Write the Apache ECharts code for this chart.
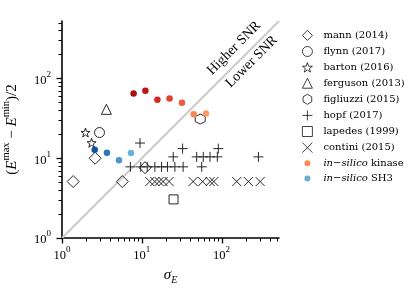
<!DOCTYPE html>
<html><head><meta charset="utf-8">
<script src="https://cdn.jsdelivr.net/npm/echarts@6/dist/echarts.min.js"></script>
<style>html,body{margin:0;padding:0;background:#fff}#c{width:415px;height:293px}</style>
</head><body><div id="c"></div>
<script>
// ---- data ----
const mann = [[1.38, 5.1], [2.6, 10], [5.7, 5.1], [11, 7.6]];
const flynn = [[2.95, 21]];
const barton = [[1.97, 21], [2.35, 15.6]];
const ferguson = [[3.6, 41]];
const figliuzzi = [[54, 31]];
const hopf = [[9.5, 15.5],
  [7.2, 7.8], [9.7, 7.8], [11.7, 7.8], [14.6, 7.8], [17.7, 7.8], [21, 7.8], [26, 7.8], [33, 7.8], [56.4, 7.8],
  [24.8, 10.4], [48.8, 10.4], [59, 10.4], [71.7, 10.4], [88.5, 10.4], [290, 10.4],
  [32.5, 13.2], [91, 13.2]];
const lapedes = [[25, 3.05]];
const contini = [[12.6, 5.1], [14.6, 5.1], [16.5, 5.1], [18.5, 5.1], [22, 5.1], [44, 5.1], [58, 5.1], [72, 5.1], [80, 5.1], [155, 5.1], [217, 5.1], [305, 5.1]];
const kinase = [[7.9, 65], [11.1, 70], [15.7, 54], [22.3, 56], [31.9, 49.5], [44.7, 35.6], [63.8, 36.3]];
const sh3 = [[2.57, 12.8], [3.66, 11.7], [5.18, 9.4], [7.32, 11.6]];
const diagonal = [1, 525];
const majorTicks = [1, 10, 100];
const minorTicks = [2, 3, 4, 5, 6, 7, 8, 9, 20, 30, 40, 50, 60, 70, 80, 90, 200, 300, 400, 500];
const axisRange = [1, 525];
const higherAnchor = [143, 240];
const lowerAnchor = [238, 162];
const names = ['mann (2014)', 'flynn (2017)', 'barton (2016)', 'ferguson (2013)', 'figliuzzi (2015)',
  'hopf (2017)', 'lapedes (1999)', 'contini (2015)', 'in-silico kinase', 'in-silico SH3'];

// ---- styles ----
const kinaseColors = ['#a50f15', '#c0141c', '#d42b22', '#e2432f', '#f05b3d', '#fc8656', '#fd9a64'];
const sh3Colors = ['#0c56a0', '#2a78ba', '#4a97cb', '#6bb0dc'];
const FF = '"Liberation Serif", "DejaVu Serif", serif';
const LF = '"DejaVu Serif", serif';

function polyPath(n, rIn, start) {
  const pts = [];
  for (let k = 0; k < n; k++) {
    const a = (start + k * 360 / n) * Math.PI / 180;
    const r = (rIn && k % 2 === 1) ? rIn : 1;
    pts.push([(r * Math.cos(a)).toFixed(3), (-r * Math.sin(a)).toFixed(3)]);
  }
  return 'path://M' + pts.map(p => p.join(',')).join('L') + 'Z';
}
const starPath = polyPath(10, 0.40, 90);
const hexPath = polyPath(6, 0, 90);
const plusPath = 'path://M0,5L10,5M5,0L5,10';
const xPath = 'path://M0,0L10,10M0,10L10,0';
const dotIcon = 'path://M0,0M10,10M5,2A3,3,0,1,1,4.99,2Z';

const hollow = {color: 'transparent', borderColor: '#111', borderWidth: 0.9, opacity: 1};

function powFmt(v) {
  const e = Math.round(Math.log10(v));
  return '{b|10}{s|' + e + '}';
}
const tickRich = {
  b: {fontFamily: FF, fontSize: 12.5, color: '#000', verticalAlign: 'top', padding: [4, 0, 0, 0]},
  s: {fontFamily: FF, fontSize: 9, color: '#000', verticalAlign: 'top'}
};

function markerSeries(name, data, symbol, size) {
  return {name, type: 'scatter', data, symbol, symbolSize: size, itemStyle: hollow, z: 3};
}

const chart = echarts.init(document.getElementById('c'), null, {renderer: 'canvas'});
const grid = {left: 62, top: 21, width: 217, height: 217, containLabel: false, outerBoundsMode: 'none'};
const mainAxis = {
  type: 'log', logBase: 10, min: axisRange[0], max: axisRange[1],
  axisLine: {show: true, lineStyle: {color: '#000', width: 1.6}},
  axisTick: {show: false},
  axisLabel: {customValues: majorTicks, formatter: powFmt, rich: tickRich},
  splitLine: {show: false}, minorTick: {show: false}
};

chart.setOption({
  animation: false,
  backgroundColor: '#fff',
  grid,
  xAxis: Object.assign({}, mainAxis, {position: 'bottom',
      axisLabel: Object.assign({}, mainAxis.axisLabel, {margin: 7}),
      name: '{s|σ}{sub|E}', nameLocation: 'middle', nameGap: 30,
      nameTextStyle: {rich: {
        s: {fontFamily: FF, fontSize: 15, fontStyle: 'italic', color: '#000', verticalAlign: 'top'},
        sub: {fontFamily: FF, fontSize: 10, fontStyle: 'italic', color: '#000', verticalAlign: 'top', padding: [7, 0, 0, 0]}
      }}}),
  yAxis: Object.assign({}, mainAxis, {position: 'left',
      axisLabel: Object.assign({}, mainAxis.axisLabel, {margin: 11}),
      name: '{p|(}{e|E}{u|max}{p| − }{e|E}{u|min}{p|)/2}', nameLocation: 'middle', nameRotate: 90, nameGap: 42,
      nameTextStyle: {rich: {
        p: {fontFamily: FF, fontSize: 15, color: '#000', verticalAlign: 'top', padding: [4, 0, 0, 0]},
        e: {fontFamily: FF, fontSize: 15, fontStyle: 'italic', color: '#000', verticalAlign: 'top', padding: [4, 0, 0, 0]},
        u: {fontFamily: FF, fontSize: 10.5, color: '#000', verticalAlign: 'top'}
      }}}),
  legend: {
    orient: 'vertical', left: 297, top: 25, itemWidth: 10, itemHeight: 10, itemGap: 5.3,
    itemStyle: {borderWidth: 0.8},
    textStyle: {fontFamily: LF, fontSize: 10, color: '#000', lineHeight: 10, padding: [0, 0, 0, 6],
      rich: {i: {fontFamily: LF, fontSize: 10, fontStyle: 'italic', color: '#000'}}},
    formatter: n => n.replace('in-silico', '{i|in−silico}'),
    data: names.slice(0, 8).concat([
      {name: names[8], icon: dotIcon, itemStyle: {borderWidth: 0}},
      {name: names[9], icon: dotIcon, itemStyle: {borderWidth: 0}}
    ])
  },
  series: [
    {type: 'line', data: diagonal.map(v => [v, v]), symbol: 'none', silent: true, z: 1,
      lineStyle: {color: '#cdcdcd', width: 2.2}},
    markerSeries(names[0], mann, 'diamond', 12),
    markerSeries(names[1], flynn, 'circle', 10),
    markerSeries(names[2], barton, starPath, 9),
    markerSeries(names[3], ferguson, 'triangle', 10),
    markerSeries(names[4], figliuzzi, hexPath, 10),
    markerSeries(names[5], hopf, plusPath, 10),
    markerSeries(names[6], lapedes, 'rect', 9),
    markerSeries(names[7], contini, xPath, 9),
    {name: names[8], type: 'scatter', symbol: 'circle', symbolSize: 6.5, z: 4,
      itemStyle: {color: '#fc8d59', borderWidth: 0, opacity: 1},
      data: kinase.map((p, i) => ({value: p, itemStyle: {color: kinaseColors[i]}}))},
    {name: names[9], type: 'scatter', symbol: 'circle', symbolSize: 6.5, z: 4,
      itemStyle: {color: '#6baed6', borderWidth: 0, opacity: 1},
      data: sh3.map((p, i) => ({value: p, itemStyle: {color: sh3Colors[i]}}))}
  ]
});

// ticks placed through the axis scales
const gx = grid.left, gy = grid.top + grid.height;
const tickEls = [];
function addTicks(vals, len, w) {
  vals.forEach(v => {
    const px = Math.round(chart.convertToPixel({gridIndex: 0}, [v, axisRange[0]])[0]) + 0.5;
    const py = Math.round(chart.convertToPixel({gridIndex: 0}, [axisRange[0], v])[1]) + 0.5;
    tickEls.push({type: 'line', silent: true, z: 100, zlevel: 0,
      shape: {x1: px, y1: gy, x2: px, y2: gy + len}, style: {stroke: '#000', lineWidth: w}});
    tickEls.push({type: 'line', silent: true, z: 100, zlevel: 0,
      shape: {x1: gx - len, y1: py, x2: gx, y2: py}, style: {stroke: '#000', lineWidth: w}});
  });
}
addTicks(majorTicks, 5.5, 1.3);
addTicks(minorTicks, 3.5, 1);

const pH = chart.convertToPixel({gridIndex: 0}, higherAnchor);
const pL = chart.convertToPixel({gridIndex: 0}, lowerAnchor);
chart.setOption({graphic: {elements: tickEls.concat([
  {type: 'text', x: pH[0], y: pH[1], rotation: Math.PI / 4, z: 100,
    style: {text: 'Higher SNR', font: '14px ' + FF, fill: '#000', align: 'center', verticalAlign: 'middle'}},
  {type: 'text', x: pL[0], y: pL[1], rotation: Math.PI / 4, z: 100,
    style: {text: 'Lower SNR', font: '14px ' + FF, fill: '#000', align: 'center', verticalAlign: 'middle'}}
])}});
</script>
</body></html>
